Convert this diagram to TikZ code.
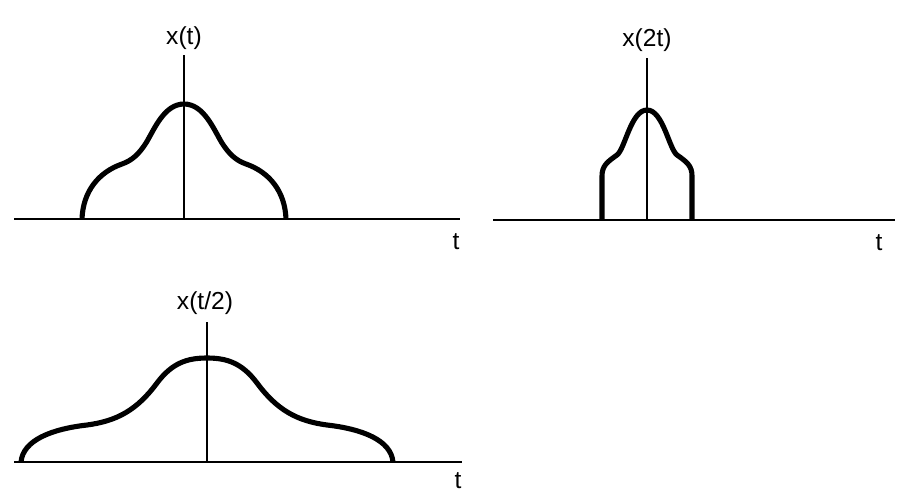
\documentclass[tikz,border=0pt]{standalone}
\usepackage{fontspec}
\setmainfont{Liberation Sans}
\usetikzlibrary{positioning,calc}

\begin{document}
\begin{tikzpicture}[x=0.02cm, y=-0.02cm,
		axis/.style={line width=0.8pt},
		signal/.style={line width=2.9pt, line join=round},
		lbl/.style={font=\fontsize{14}{16}\selectfont, inner sep=0pt}]

		\useasboundingbox (0,0) rectangle (911,503);

		% x(t)
		\coordinate (a1l) at (14,219);
		\coordinate (a1r) at (460,219);
		\coordinate (a1o) at (184,219);
		\coordinate (a1t) at (184,55);
		\draw [axis] (a1l) -- (a1r);
		\draw [axis] (a1o) -- (a1t);
		\node [lbl] (lx1) at (184,38) {x(t)};
		\node [lbl] (lt1) at (456,242) {t};
		\begin{scope}[shift={(a1o)}, yscale=-1]
			\draw [signal] (-102,0) .. controls (-101,28) and (-85,47) .. (-62,55)
				.. controls (-52,58.5) and (-45,65) .. (-38,76)
				.. controls (-30,89) and (-20,115) .. (0,115)
				.. controls (20,115) and (30,89) .. (38,76)
				.. controls (45,65) and (52,58.5) .. (62,55)
				.. controls (85,47) and (101,28) .. (102,0);
		\end{scope}

		% x(2t)
		\coordinate (a2l) at (493,220);
		\coordinate (a2r) at (895,220);
		\coordinate (a2o) at (647,220);
		\coordinate (a2t) at (647,58);
		\draw [axis] (a2l) -- (a2r);
		\draw [axis] (a2o) -- (a2t);
		\node [lbl] (lx2) at (647,40) {x(2t)};
		\node [lbl] (lt2) at (879,243) {t};
		\begin{scope}[shift={(a2o)}, yscale=-1]
			\draw [signal] (-45,0) -- (-45,44) .. controls (-45,54) and (-40,58) .. (-30,65)
				.. controls (-22,71) and (-16,110) .. (0,110)
				.. controls (16,110) and (22,71) .. (30,65)
				.. controls (40,58) and (45,54) .. (45,44) -- (45,0);
		\end{scope}

		% x(t/2)
		\coordinate (a3l) at (14,462);
		\coordinate (a3r) at (462,462);
		\coordinate (a3o) at (207,462);
		\coordinate (a3t) at (207,322);
		\draw [axis] (a3l) -- (a3r);
		\draw [axis] (a3o) -- (a3t);
		\node [lbl] (lx3) at (205,303) {x(t/2)};
		\node [lbl] (lt3) at (458,481) {t};
		\begin{scope}[shift={(a3o)}, yscale=-1]
			\draw [signal] (-186,0) .. controls (-184,22) and (-155,33) .. (-120,37)
				.. controls (-90,41) and (-70,52) .. (-50,79)
				.. controls (-35,99) and (-20,104) .. (0,104)
				.. controls (20,104) and (35,99) .. (50,79)
				.. controls (70,52) and (90,41) .. (120,37)
				.. controls (155,33) and (184,22) .. (186,0);
		\end{scope}

	\end{tikzpicture}
\end{document}
